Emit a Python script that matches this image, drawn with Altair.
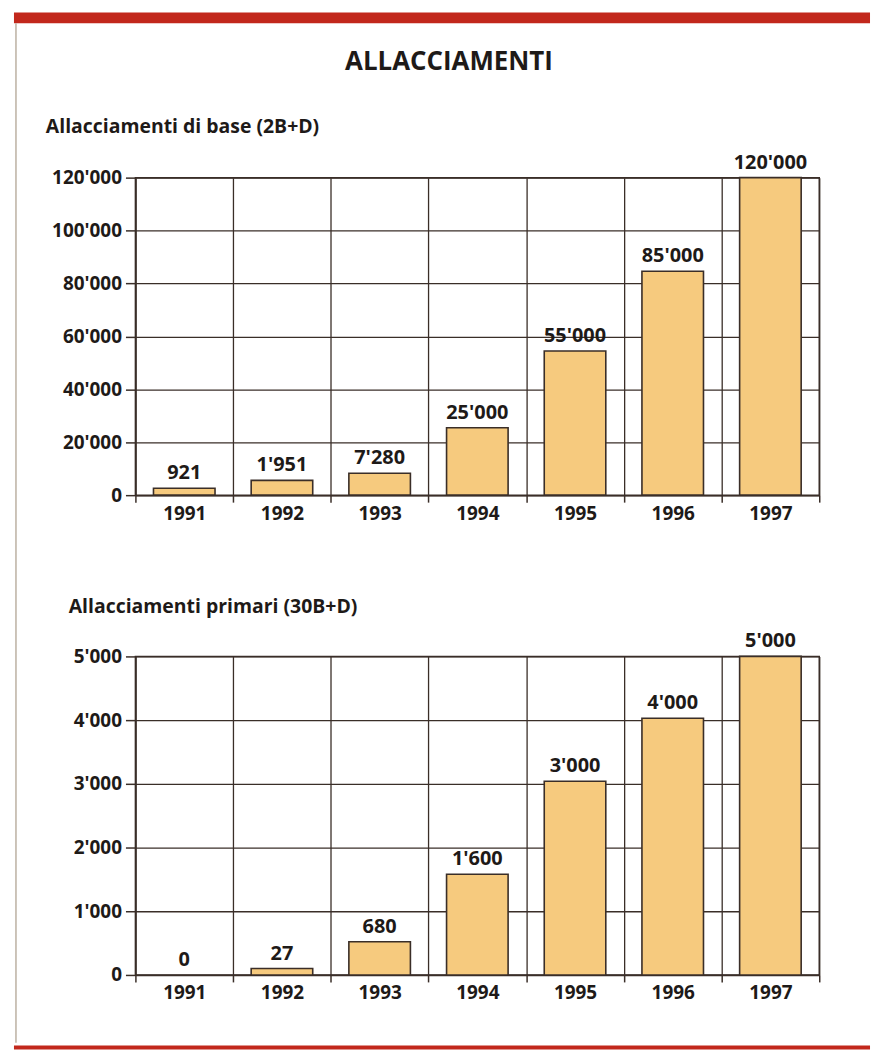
import altair as alt
import pandas as pd

# ---- data ----
years = ["1991", "1992", "1993", "1994", "1995", "1996", "1997"]

base_values = [921, 1951, 7280, 25000, 55000, 85000, 120000]
# bar heights as drawn in the reference (small bars drawn taller than their value)
base_heights = [2600, 5600, 8300, 25500, 54500, 84600, 120000]

prim_values = [0, 27, 680, 1600, 3000, 4000, 5000]
prim_heights = [0, 100, 520, 1580, 3040, 4030, 5000]

base_ticks = [0, 20000, 40000, 60000, 80000, 100000, 120000]
prim_ticks = [0, 1000, 2000, 3000, 4000, 5000]

TITLE = "ALLACCIAMENTI"
SUB1 = "Allacciamenti di base (2B+D)"
SUB2 = "Allacciamenti primari (30B+D)"

FONT = "Open Sans"
INK = "#3a2e28"
TXT = "#1e1a18"
BAR = "#f6ca7e"
RED = "#c2281c"
EDGE = "#bcb0a2"


def fmt(v):
    return f"{v:,}".replace(",", "'")


df1 = pd.DataFrame({"year": years, "value": base_values, "height": base_heights,
                    "label": [fmt(v) for v in base_values]})
df2 = pd.DataFrame({"year": years, "value": prim_values, "height": prim_heights,
                    "label": [fmt(v) for v in prim_values]})

one = alt.Data(values=[{"a": 1}])

LABEL_EXPR = "replace(format(datum.value, ','), regexp(',', 'g'), \"'\")"


def panel(df, ymax, ticks):
    x = alt.X("year:N", sort=years, title=None,
              scale=alt.Scale(paddingInner=0, paddingOuter=0),
              axis=alt.Axis(labelAngle=0, tickBand="extent", grid=True, ticks=True,
                            tickSize=7, labelPadding=2, domain=True))
    y = alt.Y("height:Q", title=None,
              scale=alt.Scale(domain=[0, ymax], nice=False, zero=True),
              axis=alt.Axis(values=ticks, labelExpr=LABEL_EXPR, tickSize=10,
                            labelPadding=4, grid=True, domain=True))
    bars = alt.Chart(df).transform_filter("datum.height > 0").mark_bar(
        fill=BAR, stroke=INK, strokeWidth=1.6,
        width=alt.RelativeBandSize(0.63)).encode(x=x, y=y)
    labels = alt.Chart(df).mark_text(dy=-9, baseline="alphabetic", font=FONT,
                                     fontWeight="bold", fontSize=20, color=TXT).encode(
        x=alt.X("year:N", sort=years), y=alt.Y("height:Q"), text="label:N")
    return bars, labels


b1, l1 = panel(df1, 120000, base_ticks)
b2, l2 = panel(df2, 5000, prim_ticks)

band = alt.Chart(one).mark_rect(color=RED).encode(
    x=alt.value(-122), x2=alt.value(738), y=alt.value(-166), y2=alt.value(-155))
border = alt.Chart(one).mark_rule(color=EDGE, strokeWidth=1.5).encode(
    x=alt.value(-120), y=alt.value(-155), y2=alt.value(869))
title = alt.Chart(one).mark_text(text=TITLE, font=FONT, fontWeight="bold", fontSize=26,
                                 color=TXT, align="center", baseline="alphabetic").encode(
    x=alt.value(315), y=alt.value(-108))
sub1 = alt.Chart(one).mark_text(text=SUB1, font=FONT, fontWeight="bold", fontSize=19.5,
                                color=TXT, align="left", baseline="alphabetic").encode(
    x=alt.value(-90), y=alt.value(-45))

sub2 = alt.Chart(one).mark_text(text=SUB2, font=FONT, fontWeight="bold", fontSize=19.5,
                                color=TXT, align="left", baseline="alphabetic").encode(
    x=alt.value(-67), y=alt.value(-44))
bottom = alt.Chart(one).mark_rule(color=RED, strokeWidth=4).encode(
    x=alt.value(-122), x2=alt.value(738), y=alt.value(393))

p1 = alt.layer(b1, l1, band, border, title, sub1).properties(width=687, height=319)
p2 = alt.layer(b2, l2, sub2, bottom).properties(width=687, height=320)

chart = alt.vconcat(p1, p2, spacing=162, bounds="flush").resolve_scale(
    y="independent", x="independent"
).properties(
    padding={"left": 3, "top": 1, "right": 0, "bottom": 0},
    background="white"
).configure_view(
    stroke=INK, strokeWidth=1.5
).configure_axis(
    labelFont=FONT, labelFontSize=19, labelFontWeight="bold", labelColor=TXT,
    domainColor=INK, domainWidth=1.5, gridColor=INK, gridWidth=1.3, gridOpacity=1,
    tickColor=INK, tickWidth=1.5
)

chart.save("out.html", embed_options={"renderer": "svg", "actions": False})
